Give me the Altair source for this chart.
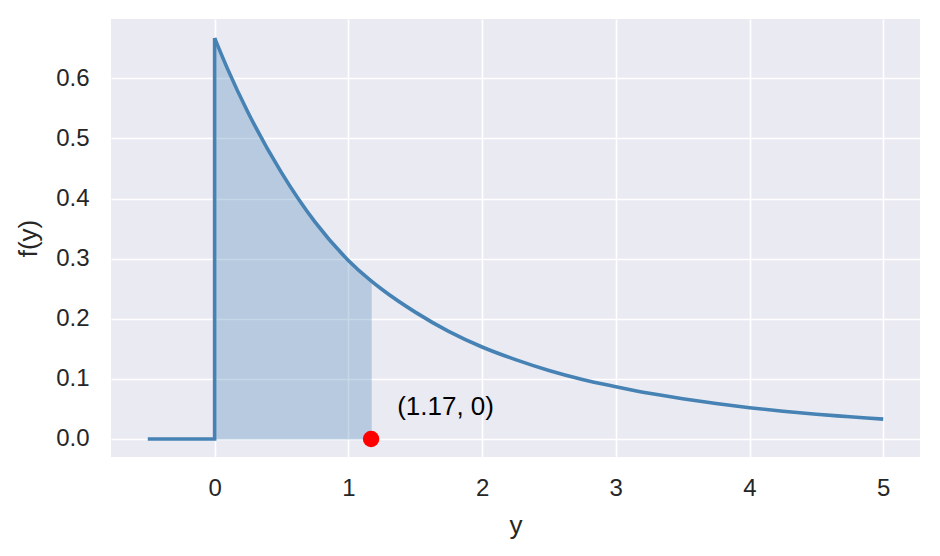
import altair as alt
import pandas as pd

# Data
step_x = [-0.5, 0.0, 0.0]
step_y = [0.0, 0.0, 0.667]

curve_x = [0.0, 0.1, 0.25, 0.5, 0.75, 1.0, 1.17, 1.25, 1.5, 1.75, 2.0, 2.25,
           2.5, 2.75, 3.0, 3.25, 3.5, 3.75, 4.0, 4.25, 4.5, 4.75, 5.0]
curve_y = [0.667, 0.614, 0.543, 0.443, 0.361, 0.297, 0.263, 0.249, 0.211, 0.179,
           0.153, 0.132, 0.114, 0.099, 0.087, 0.076, 0.067, 0.059, 0.052, 0.046,
           0.041, 0.037, 0.033]

cut_x = [1.17]
cut_y = [0.0]
annot_x = [1.365]
annot_y = [0.054]
annot_text = ["(1.17, 0)"]

x_ticks = [0, 1, 2, 3, 4, 5]
y_ticks = [0.0, 0.1, 0.2, 0.3, 0.4, 0.5, 0.6]

FONT = "Liberation Sans"
LINE = "#4682B4"

step_df = pd.DataFrame({"x": step_x, "y": step_y, "o": list(range(len(step_x)))})
curve_df = pd.DataFrame({"x": curve_x, "y": curve_y})
area_df = curve_df[curve_df["x"] <= cut_x[0]]
pt_df = pd.DataFrame({"x": cut_x, "y": cut_y})
txt_df = pd.DataFrame({"x": annot_x, "y": annot_y, "t": annot_text})

xs = alt.Scale(domain=[-0.775, 5.275], nice=False, zero=False)
ys = alt.Scale(domain=[-0.030, 0.6986], nice=False, zero=False)

xax = alt.Axis(values=x_ticks, title="y", format="d", labelFontSize=24,
               titleFontSize=26, labelPadding=19, titleY=76,
               titleBaseline="alphabetic")
yax = alt.Axis(values=y_ticks, title="f(y)", format=".1f", labelFontSize=24,
               titleFontSize=26, labelPadding=22, titleX=-83,
               titleBaseline="middle")

area = alt.Chart(area_df).mark_area(
    color=LINE, opacity=0.3, interpolate="monotone",
    stroke=LINE, strokeOpacity=1, strokeWidth=1.2
).encode(
    x=alt.X("x:Q", scale=xs, axis=xax),
    y=alt.Y("y:Q", scale=ys, axis=yax),
)

step = alt.Chart(step_df).mark_line(color=LINE, strokeWidth=3.6).encode(
    x=alt.X("x:Q", scale=xs),
    y=alt.Y("y:Q", scale=ys),
    order="o:Q",
)

curve = alt.Chart(curve_df).mark_line(color=LINE, strokeWidth=3.6,
                                      interpolate="monotone").encode(
    x=alt.X("x:Q", scale=xs),
    y=alt.Y("y:Q", scale=ys),
)

pt = alt.Chart(pt_df).mark_circle(color="red", opacity=1, size=270).encode(
    x=alt.X("x:Q", scale=xs),
    y=alt.Y("y:Q", scale=ys),
)

txt = alt.Chart(txt_df).mark_text(
    align="left", baseline="middle", fontSize=26, font=FONT, color="black"
).encode(
    x=alt.X("x:Q", scale=xs),
    y=alt.Y("y:Q", scale=ys),
    text="t:N",
)

chart = alt.layer(area, step, curve, pt, txt).properties(
    width=809, height=438,
    autosize=alt.AutoSizeParams(type="none"),
    padding={"left": 103, "top": 11, "right": 12, "bottom": 91},
).configure_view(
    fill="#EAEAF2", stroke=None
).configure_axis(
    grid=True, gridColor="white", gridWidth=1.6, domain=False, ticks=False,
    tickSize=0, labelFont=FONT, titleFont=FONT, labelColor="#262626",
    titleColor="#262626", titleFontWeight="normal"
)

chart.save("out.html", embed_options={"renderer": "svg", "actions": False})
